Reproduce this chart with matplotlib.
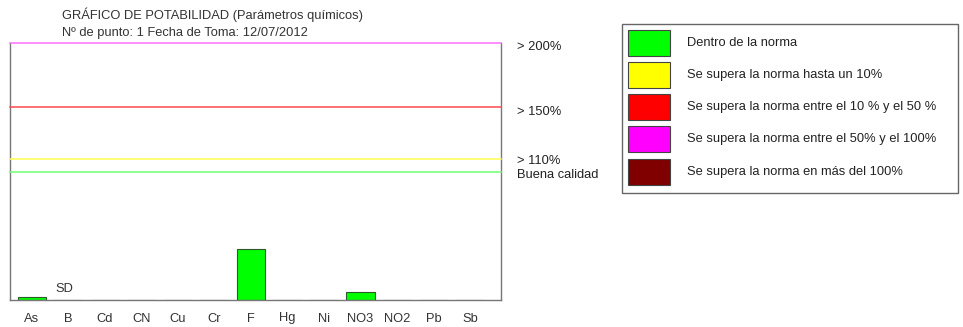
import matplotlib
matplotlib.use("Agg")
import matplotlib.pyplot as plt
from matplotlib.patches import Rectangle

# Datos del gráfico (porcentaje respecto a la norma)
parametros = ['As', 'B', 'Cd', 'CN', 'Cu', 'Cr', 'F', 'Hg', 'Ni', 'NO3', 'NO2', 'Pb', 'Sb']
valores = [2, 0, 0, 0, 0, 0, 40, 0, 0, 6, 0, 0, 0]
sin_datos = ['B']

umbrales = [200, 150, 110, 100]
umbral_colores = ['#ff70ff', '#ff4a4a', '#ffff50', '#70ff70']
umbral_textos = ['> 200%', '> 150%', '> 110%', 'Buena calidad']

leyenda_colores = ['#00ff00', '#ffff00', '#ff0000', '#ff00ff', '#800000']
leyenda_textos = ['Dentro de la norma',
                  'Se supera la norma hasta un 10%',
                  'Se supera la norma entre el 10 % y el 50 %',
                  'Se supera la norma entre el 50% y el 100%',
                  'Se supera la norma en más del 100%']

W, H = 963, 327
FS = 9.3
fig = plt.figure(figsize=(W / 100, H / 100), dpi=100)
plt.rcParams['font.family'] = ['Liberation Sans', 'DejaVu Sans']

# Área del gráfico
ax = fig.add_axes([10 / W, (H - 300) / H, 491 / W, 257 / H])
x = list(range(len(parametros)))
ax.bar(x, valores, width=0.77, color='#00ff00', edgecolor='#2a5a2a', linewidth=0.8)
ax.set_xlim(-0.6, 12.85)
ax.set_ylim(0, 200)
ax.set_xticks(x)
ax.set_xticklabels(parametros, fontsize=FS, color='#333333')
ax.tick_params(axis='x', length=0, pad=9)
ax.set_yticks([])
ax.spines['top'].set_visible(False)
for s in ['left', 'right', 'bottom']:
    ax.spines[s].set_color('#777777')
    ax.spines[s].set_linewidth(1.0)

for u, c in zip(umbrales, umbral_colores):
    ax.axhline(u, color=c, linewidth=1.1, clip_on=False, zorder=3)

# Textos a la derecha de las líneas
tr = ax.get_yaxis_transform()
ax.text(1.032, 197, umbral_textos[0], transform=tr, fontsize=FS, color='#222222', va='center')
ax.text(1.032, 146, umbral_textos[1], transform=tr, fontsize=FS, color='#222222', va='center')
ax.text(1.032, 108, umbral_textos[2], transform=tr, fontsize=FS, color='#222222', va='center')
ax.text(1.032, 97.5, umbral_textos[3], transform=tr, fontsize=FS, color='#222222', va='center')

for p in sin_datos:
    i = parametros.index(p)
    ax.text(i - 0.1, 4, 'SD', fontsize=FS, color='#333333', ha='center', va='bottom')

# Título
fig.text(62 / W, 1 - 15 / H, 'GRÁFICO DE POTABILIDAD (Parámetros químicos)',
         fontsize=FS, color='#333333', va='center')
fig.text(62 / W, 1 - 33 / H, 'Nº de punto: 1 Fecha de Toma: 12/07/2012',
         fontsize=FS, color='#333333', va='center')

# Leyenda
lg = fig.add_axes([0, 0, 1, 1])
lg.set_xlim(0, W)
lg.set_ylim(H, 0)
lg.axis('off')
lg.add_patch(Rectangle((622, 24), 336, 169, facecolor='none', edgecolor='#666666', linewidth=1))
y0 = [30, 62, 94, 126, 159]
for yy, c, t in zip(y0, leyenda_colores, leyenda_textos):
    lg.add_patch(Rectangle((628, yy), 42, 26, facecolor=c, edgecolor='#444444', linewidth=0.8))
    lg.text(687, yy + 13, t, fontsize=FS, color='#222222', va='center')

fig.savefig('out.png', dpi=100, facecolor='white')
